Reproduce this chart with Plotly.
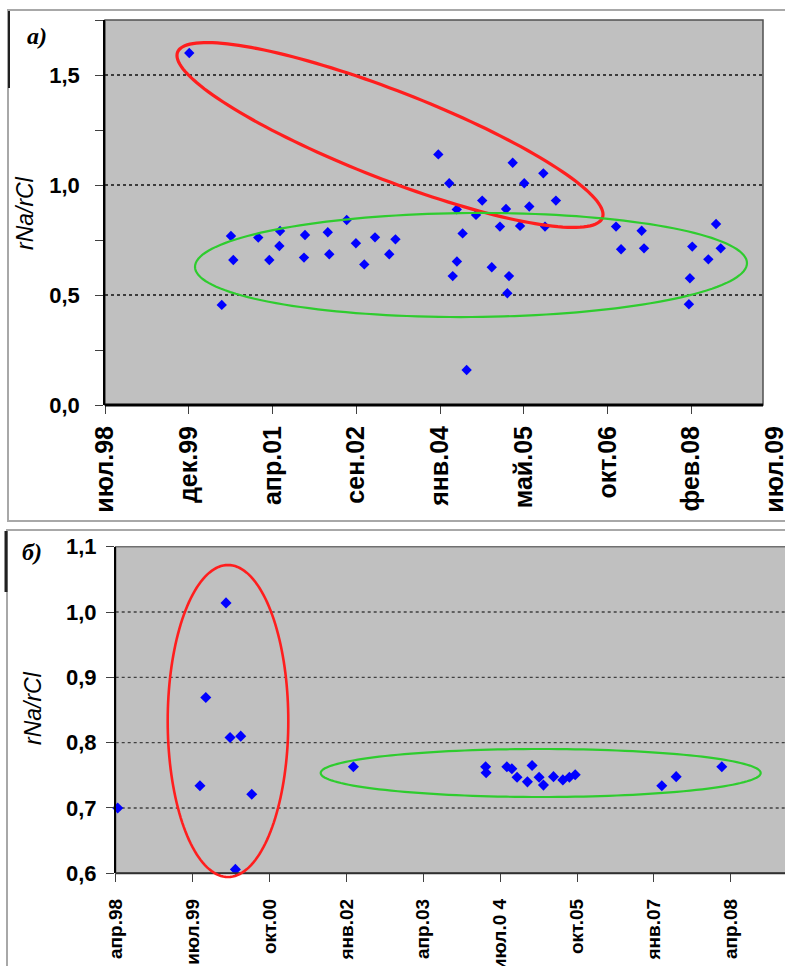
import numpy as np
import pandas as pd
import plotly.graph_objects as go

W, H = 785, 966

# ---------------- panel а) : rNa/rCl, 1998-2009 ----------------
a_dates = [
    "1999-12-09", "2000-06-20", "2000-08-14", "2000-08-28", "2001-01-24",
    "2001-03-31", "2001-06-03", "2001-05-30", "2001-10-30", "2001-10-24",
    "2002-03-15", "2002-03-24", "2002-07-06", "2002-08-30", "2002-10-19",
    "2002-12-22", "2003-03-17", "2003-04-23", "2004-01-04", "2004-03-09",
    "2004-03-30", "2004-04-23", "2004-04-24", "2004-05-28", "2004-06-21",
    "2004-08-16", "2004-09-22", "2004-11-18", "2005-01-06", "2005-02-11",
    "2005-02-19", "2005-03-01", "2005-03-23", "2005-05-06", "2005-05-31",
    "2005-06-30", "2005-09-22", "2005-10-02", "2005-12-06", "2006-11-30",
    "2006-12-30", "2007-05-02", "2007-05-16", "2008-02-08", "2008-02-14",
    "2008-02-28", "2008-06-03", "2008-07-19", "2008-08-16",
]
a_ratio = [
    1.60, 0.455, 0.768, 0.659, 0.761,
    0.659, 0.791, 0.723, 0.773, 0.670,
    0.785, 0.685, 0.841, 0.735, 0.639,
    0.762, 0.685, 0.753, 1.139, 1.008,
    0.586, 0.889, 0.652, 0.780, 0.159,
    0.864, 0.929, 0.626, 0.811, 0.891,
    0.508, 0.586, 1.101, 0.814, 1.008,
    0.902, 1.053, 0.811, 0.929, 0.811,
    0.708, 0.792, 0.712, 0.458, 0.576,
    0.720, 0.662, 0.823, 0.712,
]
a_tick_text = ["июл.98", "дек.99", "апр.01", "сен.02", "янв.04",
               "май.05", "окт.06", "фев.08", "июл.09"]
a_x_start, a_x_step = "1998-07-24", 500          # days between ticks
a_y_ticks = [0.0, 0.5, 1.0, 1.5]
a_y_text = ["0,0", "0,5", "1,0", "1,5"]
a_y_range = [0.0, 1.75]

# ---------------- panel б) : rNa/rCl, 1998-2008 ----------------
b_dates = [
    "1998-04-13", "1999-08-18", "1999-09-22", "2000-01-21", "2000-02-14",
    "2000-03-17", "2000-04-18", "2000-06-23", "2002-02-21",
    "2004-04-22", "2004-04-25", "2004-08-27", "2004-09-26", "2004-10-27",
    "2004-12-28", "2005-01-25", "2005-03-08", "2005-04-03", "2005-06-02",
    "2005-07-28", "2005-09-05", "2005-10-10", "2007-03-12", "2007-06-06",
    "2008-03-05",
]
b_ratio = [
    0.700, 0.734, 0.869, 1.014, 0.808,
    0.606, 0.810, 0.721, 0.763,
    0.763, 0.754, 0.763, 0.760, 0.747,
    0.740, 0.765, 0.747, 0.735, 0.748,
    0.743, 0.747, 0.751, 0.734, 0.748,
    0.763,
]
b_tick_text = ["апр.98", "июл.99", "окт.00", "янв.02", "апр.03",
               "июл.0 4", "окт.05", "янв.07", "апр.08"]
b_x_start, b_x_step = "1998-04-01", 460
b_y_ticks = [0.6, 0.7, 0.8, 0.9, 1.0, 1.1]
b_y_text = ["0,6", "0,7", "0,8", "0,9", "1,0", "1,1"]
b_y_range = [0.6, 1.1]


def tick_dates(start, step, n):
    t0 = pd.Timestamp(start)
    return [(t0 + pd.Timedelta(days=step * k)).strftime("%Y-%m-%d") for k in range(n)]


def shift(date, days):
    return (pd.Timestamp(date) + pd.Timedelta(days=days)).strftime("%Y-%m-%d")


a_ticks = tick_dates(a_x_start, a_x_step, len(a_tick_text))
b_ticks = tick_dates(b_x_start, b_x_step, len(b_tick_text))
a_x_end = shift(a_ticks[-1], 6)          # a little past the last tick so it stays drawn
b_x_end = shift(b_x_start, 4004)


def fx(px):
    return px / W


def fy(py):
    return 1 - py / H


# frame geometry in pixels
A_L, A_R, A_T, A_B = 105, 763, 20, 405
A_AX = 775 + 6 * 670 / 4000                     # end of the date scale
B_L, B_R, B_T, B_B = 115.7, 785, 546.7, 873.3

BLUE = "#0000ff"
TICK_FONT = dict(family="Liberation Sans", size=22, color="black", weight="bold")

fig = go.Figure()
fig.add_trace(go.Scatter(
    x=a_dates, y=a_ratio, mode="markers", xaxis="x", yaxis="y",
    marker=dict(symbol="diamond", size=8, color=BLUE, line=dict(width=0)),
    showlegend=False, cliponaxis=False,
))
fig.add_trace(go.Scatter(
    x=b_dates, y=b_ratio, mode="markers", xaxis="x2", yaxis="y2",
    marker=dict(symbol="diamond", size=8.5, color=BLUE, line=dict(width=0)),
    showlegend=False, cliponaxis=False,
))

shapes = []
# outer frames of the two charts
shapes.append(dict(type="rect", xref="paper", yref="paper",
                   x0=fx(8), x1=fx(800), y0=fy(521), y1=fy(10),
                   line=dict(color="#a8a8a8", width=2), layer="below"))
shapes.append(dict(type="line", xref="paper", yref="paper",
                   x0=fx(9), x1=fx(9), y0=fy(11), y1=fy(88),
                   line=dict(color="#202020", width=2), layer="below"))
shapes.append(dict(type="rect", xref="paper", yref="paper",
                   x0=fx(7), x1=fx(800), y0=fy(990), y1=fy(530),
                   line=dict(color="#a8a8a8", width=2), layer="below"))
shapes.append(dict(type="line", xref="paper", yref="paper",
                   x0=fx(6), x1=fx(6), y0=fy(531), y1=fy(592),
                   line=dict(color="#202020", width=3), layer="below"))

# plot areas
shapes.append(dict(type="rect", xref="paper", yref="paper",
                   x0=fx(A_L), x1=fx(A_R), y0=fy(A_B), y1=fy(A_T),
                   fillcolor="#c0c0c0", line=dict(color="#505050", width=1.5),
                   layer="below"))
shapes.append(dict(type="rect", xref="paper", yref="paper",
                   x0=fx(B_L), x1=fx(B_R + 10), y0=fy(B_B), y1=fy(B_T),
                   fillcolor="#c0c0c0", line=dict(color="#707070", width=1.5),
                   layer="below"))

# dotted gridlines
for v in a_y_ticks[1:]:
    shapes.append(dict(type="line", xref="paper", yref="y",
                       x0=fx(A_L), x1=fx(A_R), y0=v, y1=v,
                       line=dict(color="#101010", width=1.6, dash="dot"),
                       layer="below"))
for v in b_y_ticks[1:-1]:
    shapes.append(dict(type="line", xref="paper", yref="y2",
                       x0=fx(B_L), x1=fx(B_R), y0=v, y1=v,
                       line=dict(color="#404040", width=1.4, dash="dot"),
                       layer="below"))

# bottom axis lines
shapes.append(dict(type="line", xref="paper", yref="paper",
                   x0=fx(A_L), x1=fx(A_R), y0=fy(A_B), y1=fy(A_B),
                   line=dict(color="black", width=3), layer="above"))
shapes.append(dict(type="line", xref="paper", yref="paper",
                   x0=fx(B_L), x1=fx(B_R), y0=fy(B_B), y1=fy(B_B),
                   line=dict(color="#303030", width=2), layer="above"))


def ellipse_path(cx, cy, a, b, deg=0.0, n=160):
    t = np.linspace(0, 2 * np.pi, n, endpoint=False)
    th = np.deg2rad(deg)
    xs = cx + a * np.cos(t) * np.cos(th) - b * np.sin(t) * np.sin(th)
    ys = cy + a * np.cos(t) * np.sin(th) + b * np.sin(t) * np.cos(th)
    pts = [f"{fx(x):.5f},{fy(y):.5f}" for x, y in zip(xs, ys)]
    return "M " + " L ".join(pts) + " Z"


RED, GREEN = "#ff1e1e", "#2ecc2e"
# group outlines
shapes.append(dict(type="path", xref="paper", yref="paper",
                   path=ellipse_path(390, 135, 228, 44, 21.3),
                   line=dict(color=RED, width=3.2), layer="above"))
shapes.append(dict(type="path", xref="paper", yref="paper",
                   path=ellipse_path(471, 265, 276, 52, -0.4),
                   line=dict(color=GREEN, width=2.2), layer="above"))
shapes.append(dict(type="path", xref="paper", yref="paper",
                   path=ellipse_path(228, 721, 60.3, 156),
                   line=dict(color=RED, width=2.6), layer="above"))
shapes.append(dict(type="path", xref="paper", yref="paper",
                   path=ellipse_path(540.7, 773, 220, 24),
                   line=dict(color=GREEN, width=2.2), layer="above"))

annotations = [
    dict(text="а)", x=fx(37), y=fy(36), xref="paper", yref="paper",
         showarrow=False, xanchor="center", yanchor="middle",
         font=dict(family="Liberation Serif", size=24, color="black",
                   style="italic", weight="bold")),
    dict(text="б)", x=fx(32), y=fy(552), xref="paper", yref="paper",
         showarrow=False, xanchor="center", yanchor="middle",
         font=dict(family="Liberation Serif", size=24, color="black",
                   style="italic", weight="bold")),
    dict(text="rNa/rCl", x=fx(25), y=fy(213), xref="paper", yref="paper",
         showarrow=False, textangle=-90, xanchor="center", yanchor="middle",
         font=dict(family="Liberation Sans", size=23, color="black",
                   style="italic")),
    dict(text="rNa/rCl", x=fx(33), y=fy(708), xref="paper", yref="paper",
         showarrow=False, textangle=-90, xanchor="center", yanchor="middle",
         font=dict(family="Liberation Sans", size=23, color="black",
                   style="italic")),
]

fig.update_layout(
    width=W, height=H,
    margin=dict(l=0, r=0, t=0, b=0, autoexpand=False),
    paper_bgcolor="white", plot_bgcolor="rgba(0,0,0,0)",
    showlegend=False,
    shapes=shapes, annotations=annotations,
    xaxis=dict(
        domain=[fx(A_L), fx(A_AX)], anchor="y", type="date", automargin=False,
        range=[a_ticks[0], a_x_end],
        tickmode="array", tickvals=a_ticks, ticktext=a_tick_text,
        tickangle=-90, ticks="", showgrid=False, zeroline=False, showline=False,
        tickfont=dict(TICK_FONT, size=25), ticklabelstandoff=15,
        ticklabeloverflow="allow",
        minor=dict(tickmode="array", tickvals=a_ticks[:-1], ticks="outside",
                   ticklen=8, tickcolor="#404040", tickwidth=1, showgrid=False),
    ),
    yaxis=dict(
        domain=[fy(A_B), fy(A_T)], anchor="x", range=a_y_range, automargin=False,
        tickmode="array", tickvals=a_y_ticks, ticktext=a_y_text,
        ticks="outside", ticklen=8, tickcolor="#404040",
        showgrid=False, zeroline=False,
        showline=True, linecolor="black", linewidth=1.5,
        tickfont=TICK_FONT, ticklabelstandoff=11,
        minor=dict(dtick=0.25, ticks="outside", ticklen=8,
                   tickcolor="#404040", showgrid=False),
    ),
    xaxis2=dict(
        domain=[fx(B_L), 1.0], anchor="y2", type="date", automargin=False,
        range=[b_ticks[0], b_x_end],
        tickmode="array", tickvals=b_ticks, ticktext=b_tick_text,
        tickangle=-90, ticks="outside", ticklen=8, tickcolor="#404040",
        showgrid=False, zeroline=False, showline=False,
        tickfont=dict(TICK_FONT, size=19), ticklabelstandoff=9,
        ticklabeloverflow="allow",
    ),
    yaxis2=dict(
        domain=[fy(B_B), fy(B_T)], anchor="x2", range=b_y_range, automargin=False,
        tickmode="array", tickvals=b_y_ticks, ticktext=b_y_text,
        ticks="outside", ticklen=8, tickcolor="#404040",
        showgrid=False, zeroline=False,
        showline=True, linecolor="black", linewidth=1.5,
        tickfont=TICK_FONT, ticklabelstandoff=5,
    ),
)

fig.write_html("out.html")
